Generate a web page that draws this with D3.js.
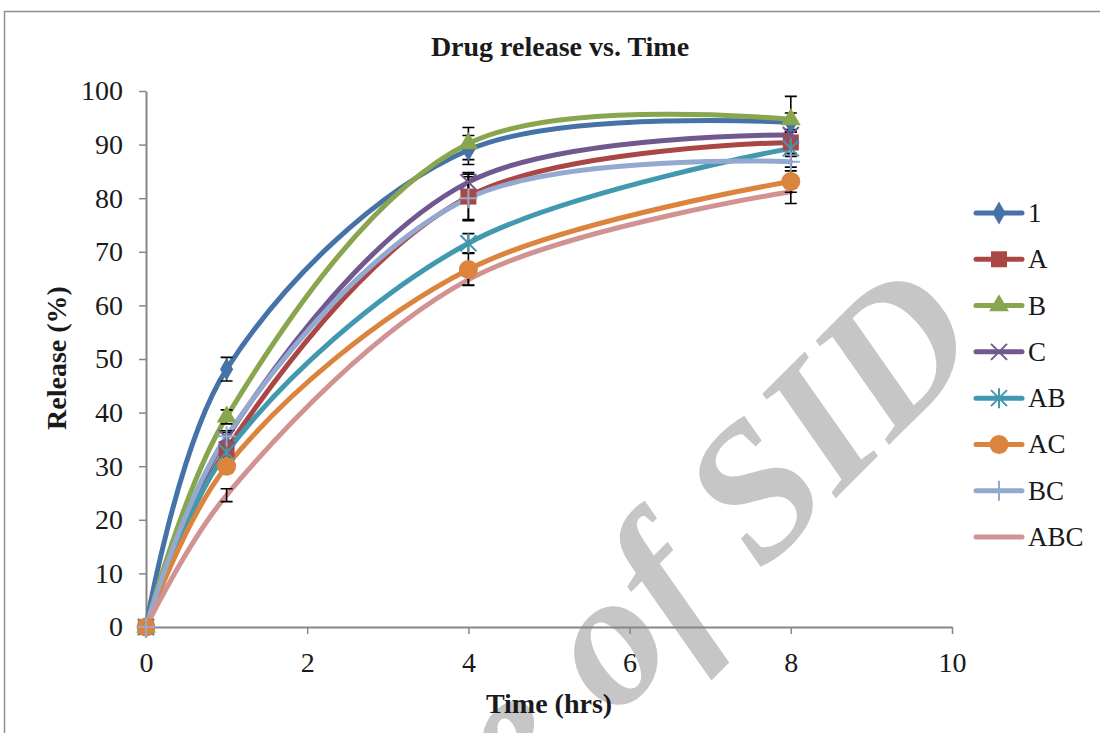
<!DOCTYPE html>
<html>
<head>
<meta charset="utf-8">
<script src="https://cdn.jsdelivr.net/npm/d3@7"></script>
<style>
  body { margin: 0; background: #fff; }
  svg { display: block; }
  text { font-family: "Liberation Serif", "DejaVu Serif", serif; }
</style>
</head>
<body>
<div id="vis"></div>
<script>
const FRAME_WIDTH = 1100;
const FRAME_HEIGHT = 733;
const PLOT = {left: 146, right: 952, top: 91, bottom: 627};

// data
const times = [0, 1, 4, 8];
const seriesNames = ["1", "A", "B", "C", "AB", "AC", "BC", "ABC"];
const release1   = [0, 48.1, 89.0, 94.1];
const releaseA   = [0, 33.2, 80.3, 90.4];
const releaseB   = [0, 39.2, 90.2, 94.7];
const releaseC   = [0, 35.3, 83.0, 91.8];
const releaseAB  = [0, 32.6, 71.6, 89.3];
const releaseAC  = [0, 30.0, 66.7, 83.1];
const releaseBC  = [0, 35.6, 80.0, 86.8];
const releaseABC = [0, 24.6, 64.8, 81.2];
const error1   = [0, 2.2, 2.7, 1.8];
const errorA   = [0, 1.2, 4.5, 2.0];
const errorB   = [0, 1.3, 3.0, 4.3];
const errorC   = [0, 1.0, 1.5, 1.0];
const errorAB  = [0, 1.0, 1.8, 1.0];
const errorAC  = [0, 1.2, 3.0, 2.0];
const errorBC  = [0, 1.0, 4.0, 1.0];
const errorABC = [0, 1.2, 1.0, 2.2];
const xTicks = [0, 2, 4, 6, 8, 10];
const yTicks = [0, 10, 20, 30, 40, 50, 60, 70, 80, 90, 100];

const seriesValues = [release1, releaseA, releaseB, releaseC, releaseAB, releaseAC, releaseBC, releaseABC];
const seriesErrors = [error1, errorA, errorB, errorC, errorAB, errorAC, errorBC, errorABC];
const COLORS = ["#4572A7", "#AA4643", "#89A54E", "#71588F", "#4198AF", "#DB843D", "#93A9CF", "#D19392"];
const MARKERS = ["diamond", "square", "triangle", "x", "asterisk", "circle", "plus", "none"];

const series = seriesNames.map((name, i) => ({
  name: name,
  color: COLORS[i],
  marker: MARKERS[i],
  points: times.map((t, j) => ({t: t, v: seriesValues[i][j], e: seriesErrors[i][j]}))
}));

const svg = d3.select("#vis")
  .append("svg")
  .attr("width", FRAME_WIDTH)
  .attr("height", FRAME_HEIGHT);

// chart border (the picture is cropped at right and bottom)
svg.append("path")
  .attr("d", "M4.5,733V11.5H1100")
  .attr("fill", "none")
  .attr("stroke", "#8e8e8e")
  .attr("stroke-width", 1.5);

// watermark behind the chart
svg.append("text")
  .attr("transform", "translate(988,346) rotate(-45)")
  .attr("text-anchor", "end")
  .style("font-style", "italic")
  .style("font-weight", "bold")
  .style("font-size", "192px")
  .attr("fill", "#c6c6c6")
  .text("Archive of SID");

const X_SCALE = d3.scaleLinear().domain([0, 10]).range([PLOT.left, PLOT.right]);
const Y_SCALE = d3.scaleLinear().domain([0, 100]).range([PLOT.bottom, PLOT.top]);

// title
svg.append("text")
  .attr("x", 560).attr("y", 56)
  .attr("text-anchor", "middle")
  .style("font-weight", "bold")
  .style("font-size", "28px")
  .attr("fill", "#1a1a1a")
  .text("Drug release vs. Time");

// axes
const yAxis = svg.append("g")
  .attr("transform", "translate(" + PLOT.left + ",0)")
  .call(d3.axisLeft(Y_SCALE).tickValues(yTicks).tickSize(7).tickPadding(16).tickSizeOuter(0));

const xAxis = svg.append("g")
  .attr("transform", "translate(0," + PLOT.bottom + ")")
  .call(d3.axisBottom(X_SCALE).tickValues(xTicks).tickSize(7).tickPadding(18).tickSizeOuter(0));

[xAxis, yAxis].forEach((ax) => {
  ax.attr("font-family", null).attr("font-size", null);
  ax.select(".domain").attr("stroke", "#868686").attr("stroke-width", 2);
  ax.selectAll(".tick line").attr("stroke", "#868686").attr("stroke-width", 1.5);
  ax.selectAll(".tick text")
    .style("font-size", "28px")
    .attr("fill", "#1a1a1a");
});

// axis titles
svg.append("text")
  .attr("x", 549).attr("y", 713)
  .attr("text-anchor", "middle")
  .style("font-weight", "bold")
  .style("font-size", "28px")
  .attr("fill", "#1a1a1a")
  .text("Time (hrs)");

svg.append("text")
  .attr("transform", "translate(66,358) rotate(-90)")
  .attr("text-anchor", "middle")
  .style("font-weight", "bold")
  .style("font-size", "28px")
  .attr("fill", "#1a1a1a")
  .text("Release (%)");

// marker drawing
function drawMarker(g, type, color) {
  if (type === "diamond") {
    g.append("path").attr("d", d3.symbol(d3.symbolDiamond, 150)()).attr("fill", color);
  } else if (type === "square") {
    g.append("rect").attr("x", -8).attr("y", -8).attr("width", 16).attr("height", 16).attr("fill", color);
  } else if (type === "triangle") {
    g.append("path").attr("d", d3.symbol(d3.symbolTriangle, 170)()).attr("fill", color);
  } else if (type === "circle") {
    g.append("circle").attr("r", 9.5).attr("fill", color);
  } else if (type === "x") {
    g.append("path").attr("d", "M-8,-8L8,8M-8,8L8,-8").attr("stroke", color).attr("stroke-width", 2).attr("fill", "none");
  } else if (type === "asterisk") {
    g.append("path").attr("d", "M-8,-8L8,8M-8,8L8,-8M0,-10V10").attr("stroke", color).attr("stroke-width", 2).attr("fill", "none");
  } else if (type === "plus") {
    g.append("path").attr("d", "M-9,0H9M0,-10V10").attr("stroke", color).attr("stroke-width", 2).attr("fill", "none");
  }
}

const line = d3.line()
  .x((d) => X_SCALE(d.t))
  .y((d) => Y_SCALE(d.v))
  .curve(d3.curveCatmullRom.alpha(0.5));

// smoothed lines
svg.append("g").selectAll("path")
  .data(series)
  .enter()
  .append("path")
    .attr("d", (d) => line(d.points))
    .attr("fill", "none")
    .attr("stroke", (d) => d.color)
    .attr("stroke-width", 5)
    .attr("stroke-linecap", "round");

// error bars
const errs = series.flatMap((s) => s.points.filter((p) => p.e > 0));
const eg = svg.append("g").attr("stroke", "#000").attr("stroke-width", 1.6);
eg.selectAll("path")
  .data(errs)
  .enter()
  .append("path")
    .attr("fill", "none")
    .attr("d", (d) => {
      const x = X_SCALE(d.t), y0 = Y_SCALE(d.v - d.e), y1 = Y_SCALE(d.v + d.e);
      return "M" + x + "," + y0 + "V" + y1 + "M" + (x - 6) + "," + y0 + "H" + (x + 6) + "M" + (x - 6) + "," + y1 + "H" + (x + 6);
    });

// markers
series.forEach((s) => {
  s.points.forEach((p) => {
    const g = svg.append("g").attr("transform", "translate(" + X_SCALE(p.t) + "," + Y_SCALE(p.v) + ")");
    drawMarker(g, s.marker, s.color);
  });
});

// legend
const LEGEND_Y = d3.scalePoint().domain(seriesNames).range([213, 537]);
const legend = svg.append("g").selectAll("g")
  .data(series)
  .enter()
  .append("g")
    .attr("transform", (d) => "translate(0," + LEGEND_Y(d.name) + ")");

legend.append("line")
  .attr("x1", 976).attr("x2", 1022)
  .attr("stroke", (d) => d.color)
  .attr("stroke-width", 5)
  .attr("stroke-linecap", "round");

legend.each(function(d) {
  const g = d3.select(this).append("g").attr("transform", "translate(999,0)");
  drawMarker(g, d.marker, d.color);
});

legend.append("text")
  .attr("x", 1028).attr("y", 9)
  .style("font-size", "27px")
  .attr("fill", "#1a1a1a")
  .text((d) => d.name);
</script>
</body>
</html>
